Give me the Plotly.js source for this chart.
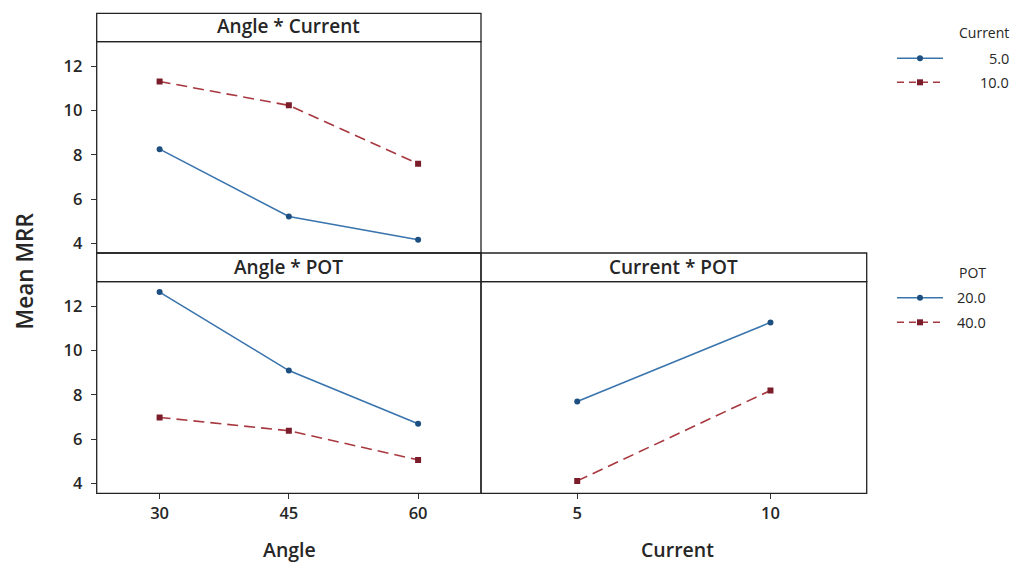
<!DOCTYPE html>
<html><head><meta charset="utf-8">
<script src="https://cdn.plot.ly/plotly-3.0.1.min.js"></script>
<style>html,body{margin:0;padding:0;background:#fff;}#chart{width:1018px;height:563px;}</style>
</head><body><div id="chart"></div>
<script>
// ---- data ----
const angleLevels = [30, 45, 60];
const currentLevels = [5, 10];
const angleCurrent_5 = [8.26, 5.21, 4.16];
const angleCurrent_10 = [11.32, 10.24, 7.6];
const anglePOT_20 = [12.65, 9.1, 6.69];
const anglePOT_40 = [6.98, 6.38, 5.06];
const currentPOT_20 = [7.7, 11.28];
const currentPOT_40 = [4.11, 8.2];
const yTicks = [4, 6, 8, 10, 12];
const panelTitles = ["Angle * Current", "Angle * POT", "Current * POT"];
const legend1Title = "Current";
const legend1Labels = ["5.0", "10.0"];
const legend2Title = "POT";
const legend2Labels = ["20.0", "40.0"];

// ---- styling ----
const W = 1018, H = 563;
const px = x => x / W, py = y => 1 - y / H;
const FONT = "Open Sans, Noto Sans, sans-serif";
const TXT = "#262626";
const BLUE = "#3a74ad", BLUE_M = "#1d4f80";
const RED = "#a8383f", RED_M = "#7a1c2a";
const DASH = "11px,6px";

function solid(x, y, xa, ya) {
  return {x, y, xaxis: xa, yaxis: ya, mode: "lines+markers", showlegend: false, hoverinfo: "skip",
    line: {color: BLUE, width: 1.6}, marker: {color: BLUE_M, size: 6, symbol: "circle"}};
}
function dashed(x, y, xa, ya) {
  return {x, y, xaxis: xa, yaxis: ya, mode: "lines+markers", showlegend: false, hoverinfo: "skip",
    line: {color: RED, width: 1.6, dash: DASH}, marker: {color: RED_M, size: 6, symbol: "square"}};
}

const traces = [
  solid(angleLevels, angleCurrent_5, "x", "y"),
  dashed(angleLevels, angleCurrent_10, "x", "y"),
  solid(angleLevels, anglePOT_20, "x2", "y2"),
  dashed(angleLevels, anglePOT_40, "x2", "y2"),
  solid(currentLevels, currentPOT_20, "x3", "y3"),
  dashed(currentLevels, currentPOT_40, "x3", "y3")
];

const L = 96.7, M = 481, R = 866.7;
const T1 = 13.3, S1 = 41.7, B1 = 253, S2 = 281.7, B2 = 493.3;

const tickFont = {family: FONT, size: 16.5, color: TXT, weight: 600};
const yAx = (dom, rng, labels) => ({
  domain: dom, range: rng, tickvals: yTicks, ticktext: yTicks.map(String),
  ticks: labels ? "outside" : "", ticklen: 5, tickcolor: "#333", tickwidth: 1,
  showticklabels: labels, ticklabelstandoff: 5,
  showgrid: false, zeroline: false, showline: false, fixedrange: true,
  tickfont: tickFont
});
const xAx = (dom, rng, vals, labels, anchor) => ({
  domain: dom, range: rng, tickvals: vals, ticktext: vals.map(String), anchor,
  ticks: labels ? "outside" : "", ticklen: 5, tickcolor: "#333", tickwidth: 1,
  showticklabels: labels, showgrid: false, zeroline: false, showline: false, fixedrange: true,
  tickfont: tickFont
});

const box = (x0, y0, x1, y1) => ({type: "rect", xref: "paper", yref: "paper",
  x0: px(x0), x1: px(x1), y0: py(y1), y1: py(y0), line: {color: "#222", width: 1.3}, fillcolor: "rgba(0,0,0,0)"});
const seg = (x0, y0, x1, y1, color, dash, w) => ({type: "line", xref: "paper", yref: "paper",
  x0: px(x0), x1: px(x1), y0: py(y0), y1: py(y1), line: {color, width: w || 1.6, dash: dash || "solid"}});
const mark = (cx, cy, color, kind) => ({type: kind === "sq" ? "rect" : "circle", xref: "paper", yref: "paper",
  x0: px(cx - 3), x1: px(cx + 3), y0: py(cy + 3), y1: py(cy - 3), line: {width: 0}, fillcolor: color});

const shapes = [
  box(L, T1, M, S1), box(L, S1, M, B1),
  box(L, B1, M, S2), box(L, S2, M, B2),
  box(M, B1, R, S2), box(M, S2, R, B2),
  // legend samples
  seg(897, 58.3, 943, 58.3, BLUE), mark(920, 58.3, BLUE_M, "c"),
  seg(897, 82.3, 945, 82.3, RED, "7px,5px"), mark(920, 82.3, RED_M, "sq"),
  seg(897, 297.7, 943, 297.7, BLUE), mark(920, 297.7, BLUE_M, "c"),
  seg(897, 322.3, 945, 322.3, RED, "7px,5px"), mark(920, 322.3, RED_M, "sq")
];

const ann = (text, x, y, size, wt, opts) => Object.assign({text, xref: "paper", yref: "paper",
  x: px(x), y: py(y), showarrow: false, font: {family: FONT, size, color: TXT, weight: wt},
  xanchor: "center", yanchor: "middle"}, opts || {});

const annotations = [
  ann(panelTitles[0], (L + M) / 2, 26.5, 19, 600),
  ann(panelTitles[1], (L + M) / 2, 266.5, 19, 600),
  ann(panelTitles[2], (M + R) / 2, 266.5, 19, 600),
  ann("Mean MRR", 24, 271.5, 22.5, 600, {textangle: -90}),
  ann("Angle", 289, 549, 19.5, 600),
  ann("Current", 677, 549, 19.5, 600),
  ann(legend1Title, 1011, 32.5, 14, 400, {xanchor: "right"}),
  ann(legend1Labels[0], 1011, 58.3, 14.5, 400, {xanchor: "right"}),
  ann(legend1Labels[1], 1011, 82.3, 14.5, 400, {xanchor: "right"}),
  ann(legend2Title, 988, 272.7, 14, 400, {xanchor: "right"}),
  ann(legend2Labels[0], 988, 297.7, 14.5, 400, {xanchor: "right"}),
  ann(legend2Labels[1], 988, 322.3, 14.5, 400, {xanchor: "right"})
];

const layout = {
  width: W, height: H, margin: {l: 0, r: 0, t: 0, b: 0},
  paper_bgcolor: "#fff", plot_bgcolor: "#fff", showlegend: false,
  font: {family: FONT, color: TXT},
  xaxis: xAx([px(L), px(M)], [22.7, 67.3], angleLevels, false, "y"),
  yaxis: yAx([py(B1), py(S1)], [3.561, 13.12], true),
  xaxis2: xAx([px(L), px(M)], [22.7, 67.3], angleLevels, true, "y2"),
  yaxis2: Object.assign(yAx([py(B2), py(S2)], [3.548, 13.12], true), {anchor: "x2"}),
  xaxis3: xAx([px(M), px(R)], [2.51, 12.49], currentLevels, true, "y3"),
  yaxis3: Object.assign(yAx([py(B2), py(S2)], [3.548, 13.12], false), {anchor: "x3"}),
  shapes, annotations
};
layout.yaxis.anchor = "x";

Plotly.newPlot("chart", traces, layout, {displayModeBar: false, staticPlot: true});
</script></body></html>
